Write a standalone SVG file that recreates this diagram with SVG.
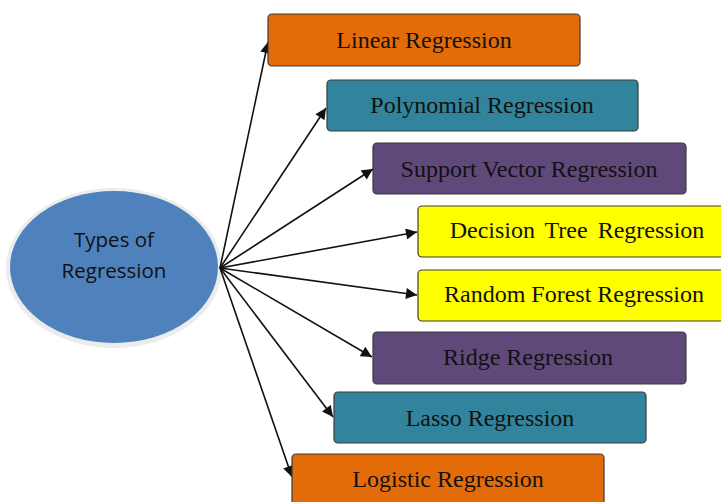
<svg xmlns="http://www.w3.org/2000/svg" width="721" height="502" viewBox="0 0 721 502">
<style>
.box{stroke:#3b3b3b;stroke-width:1.2}
.t{font-family:"Liberation Serif","Times New Roman",serif;font-size:24px;fill:#111;text-anchor:middle}
.c{font-family:"Open Sans","Liberation Sans",sans-serif;font-size:20.5px;fill:#111;text-anchor:middle}
.e{stroke:#111;stroke-width:1.6;fill:none;marker-end:url(#ah)}
</style>
<defs>
<marker id="ah" viewBox="0 0 10 10" refX="10" refY="5" markerWidth="12" markerHeight="11" markerUnits="userSpaceOnUse" orient="auto">
<path d="M0,0 L10,5 L0,10 z" fill="#111"/>
</marker>
</defs>
<rect width="721" height="502" fill="#fff"/>
<g id="center">
<ellipse cx="114" cy="268" rx="108" ry="80" fill="#ececec"/>
<ellipse cx="114" cy="267" rx="104" ry="76" fill="#4f81bd"/>
<text class="c" x="114" y="247">Types of</text>
<text class="c" x="114" y="278">Regression</text>
</g>
<g id="connectors">
<line class="e" x1="220" y1="268" x2="268" y2="42"/>
<line class="e" x1="220" y1="268" x2="326" y2="108"/>
<line class="e" x1="220" y1="268" x2="373" y2="169"/>
<line class="e" x1="220" y1="268" x2="417" y2="232"/>
<line class="e" x1="220" y1="268" x2="417" y2="295"/>
<line class="e" x1="220" y1="268" x2="372" y2="357"/>
<line class="e" x1="220" y1="268" x2="333" y2="417"/>
<line class="e" x1="220" y1="268" x2="292" y2="477"/>
</g>
<g id="linear">
<rect class="box" x="268" y="14" width="312" height="52" rx="4" fill="#e36c09"/>
<text class="t" x="424" y="48">Linear Regression</text>
</g>
<g id="polynomial">
<rect class="box" x="327" y="80" width="311" height="51" rx="4" fill="#31849b"/>
<text class="t" x="482" y="113">Polynomial Regression</text>
</g>
<g id="svr">
<rect class="box" x="373" y="143" width="313" height="51" rx="4" fill="#5f497a"/>
<text class="t" x="529" y="177">Support Vector Regression</text>
</g>
<g id="decision-tree">
<rect class="box" x="418" y="206" width="320" height="51" rx="4" fill="#ffff00"/>
<text class="t" x="577" y="238" word-spacing="4">Decision Tree Regression</text>
</g>
<g id="random-forest">
<rect class="box" x="418" y="270" width="320" height="51" rx="4" fill="#ffff00"/>
<text class="t" x="574" y="302">Random Forest Regression</text>
</g>
<g id="ridge">
<rect class="box" x="373" y="332" width="313" height="52" rx="4" fill="#5f497a"/>
<text class="t" x="528" y="365">Ridge Regression</text>
</g>
<g id="lasso">
<rect class="box" x="334" y="392" width="312" height="51" rx="4" fill="#31849b"/>
<text class="t" x="490" y="426">Lasso Regression</text>
</g>
<g id="logistic">
<rect class="box" x="292" y="454" width="312" height="60" rx="4" fill="#e36c09"/>
<text class="t" x="448" y="487">Logistic Regression</text>
</g>
</svg>
